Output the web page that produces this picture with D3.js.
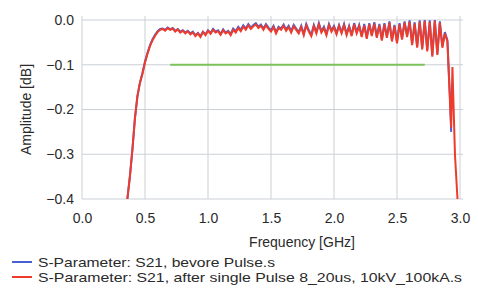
<!DOCTYPE html>
<html>
<head>
<meta charset="utf-8">
<script src="https://cdn.jsdelivr.net/npm/d3@7"></script>
<style>
  body { margin: 0; background: #fff; }
  text { font-family: Arial, "Liberation Sans", sans-serif; fill: #2a2a2a; }
</style>
</head>
<body>
<div id="chart"></div>
<script>
const freqs = [0.36,0.38,0.40,0.42,0.44,0.46,0.48,0.50,0.52,0.54,0.56,0.58,0.60,0.62,0.64,0.66,0.68,0.70,0.72,0.74,0.76,0.78,0.80,0.82,0.84,0.86,0.88,0.90,0.92,0.94,0.96,0.98,1.00,1.02,1.04,1.06,1.08,1.10,1.12,1.14,1.16,1.18,1.20,1.22,1.24,1.26,1.28,1.30,1.32,1.34,1.36,1.38,1.40,1.42,1.44,1.46,1.48,1.50,1.52,1.54,1.56,1.58,1.60,1.62,1.64,1.66,1.68,1.70,1.72,1.74,1.76,1.78,1.80,1.82,1.84,1.86,1.88,1.90,1.92,1.94,1.96,1.98,2.00,2.02,2.04,2.06,2.08,2.10,2.12,2.14,2.16,2.18,2.20,2.22,2.24,2.26,2.28,2.30,2.32,2.34,2.36,2.38,2.40,2.42,2.44,2.46,2.48,2.50,2.52,2.54,2.56,2.58,2.60,2.62,2.64,2.66,2.68,2.70,2.72,2.74,2.76,2.78,2.80,2.82,2.84,2.86,2.88,2.90,2.92,2.93,2.94,2.96,2.98]

// S21 after pulse (red)
const ampAfter = [-0.40,-0.35,-0.29,-0.22,-0.17,-0.14,-0.12,-0.095,-0.075,-0.058,-0.045,-0.035,-0.027,-0.022,-0.020,-0.024,-0.018,-0.022,-0.019,-0.026,-0.021,-0.028,-0.024,-0.030,-0.025,-0.032,-0.028,-0.036,-0.030,-0.038,-0.027,-0.034,-0.024,-0.031,-0.022,-0.028,-0.025,-0.033,-0.023,-0.030,-0.026,-0.034,-0.022,-0.028,-0.018,-0.025,-0.015,-0.022,-0.012,-0.020,-0.014,-0.010,-0.018,-0.013,-0.022,-0.012,-0.020,-0.026,-0.016,-0.030,-0.018,-0.022,-0.013,-0.024,-0.016,-0.028,-0.014,-0.022,-0.030,-0.016,-0.034,-0.012,-0.026,-0.036,-0.014,-0.030,-0.010,-0.028,-0.018,-0.034,-0.012,-0.026,-0.016,-0.032,-0.014,-0.030,-0.012,-0.034,-0.016,-0.036,-0.010,-0.030,-0.014,-0.038,-0.012,-0.042,-0.010,-0.036,-0.008,-0.040,-0.012,-0.046,-0.010,-0.040,-0.006,-0.048,-0.014,-0.052,-0.010,-0.044,-0.006,-0.038,-0.004,-0.056,-0.008,-0.062,-0.004,-0.066,-0.002,-0.070,-0.004,-0.082,-0.002,-0.078,-0.006,-0.062,-0.030,-0.048,-0.180,-0.240,-0.105,-0.300,-0.400]

// S21 before pulse (blue)
const ampBefore = [-0.40,-0.35,-0.29,-0.22,-0.17,-0.14,-0.118,-0.093,-0.073,-0.056,-0.043,-0.033,-0.025,-0.020,-0.019,-0.022,-0.017,-0.021,-0.018,-0.024,-0.020,-0.026,-0.023,-0.028,-0.024,-0.030,-0.026,-0.034,-0.029,-0.036,-0.026,-0.032,-0.023,-0.029,-0.020,-0.026,-0.023,-0.031,-0.021,-0.028,-0.024,-0.031,-0.019,-0.025,-0.015,-0.022,-0.012,-0.019,-0.009,-0.017,-0.011,-0.007,-0.015,-0.010,-0.019,-0.009,-0.017,-0.023,-0.013,-0.027,-0.015,-0.019,-0.010,-0.021,-0.013,-0.025,-0.011,-0.019,-0.027,-0.013,-0.031,-0.009,-0.023,-0.033,-0.011,-0.027,-0.007,-0.025,-0.015,-0.031,-0.009,-0.023,-0.013,-0.029,-0.011,-0.027,-0.009,-0.031,-0.013,-0.033,-0.007,-0.027,-0.011,-0.035,-0.009,-0.039,-0.007,-0.033,-0.005,-0.037,-0.009,-0.043,-0.007,-0.037,-0.003,-0.045,-0.011,-0.049,-0.007,-0.041,-0.003,-0.035,-0.001,-0.053,-0.005,-0.059,-0.001,-0.063,0.000,-0.067,-0.001,-0.079,0.000,-0.075,-0.003,-0.059,-0.027,-0.045,-0.170,-0.250,null,null,null]

// green reference level
const limitFreqs = [0.70, 2.72]
const limitAmp = [-0.1, -0.1]

const xTicks = [0.0, 0.5, 1.0, 1.5, 2.0, 2.5, 3.0]
const yTicks = [0.0, -0.1, -0.2, -0.3, -0.4]
const legendLabels = ['S-Parameter: S21, bevore Pulse.s', 'S-Parameter: S21, after single Pulse 8_20us, 10kV_100kA.s']
const legendWidths = [237, 424]
const colors = ['#4a5fd0', '#ee3b2b', '#7cc25a']

const width = 478, height = 295
const m = {left: 82, right: 460, top: 20, bottom: 199}

const svg = d3.select('#chart').append('svg')
  .attr('width', width)
  .attr('height', height)

const x = d3.scaleLinear().domain([0, 3]).range([m.left, m.right])
const y = d3.scaleLinear().domain([-0.4, 0]).range([m.bottom, m.top])

// grid
svg.append('g').selectAll('line')
  .data(xTicks)
  .enter().append('line')
  .attr('x1', d => x(d)).attr('x2', d => x(d))
  .attr('y1', m.top - 4).attr('y2', m.bottom)
  .attr('stroke', '#cbd0d6')
svg.append('g').selectAll('line')
  .data(yTicks)
  .enter().append('line')
  .attr('x1', m.left).attr('x2', m.right + 3)
  .attr('y1', d => y(d)).attr('y2', d => y(d))
  .attr('stroke', '#cbd0d6')

// tick labels
const xAxis = svg.append('g')
  .attr('transform', `translate(0,${m.bottom})`)
  .call(d3.axisBottom(x).tickValues(xTicks).tickFormat(d3.format('.1f')).tickSize(0).tickPadding(14))
xAxis.select('.domain').remove()
xAxis.selectAll('text').style('font-size', '14px').attr('fill', '#2a2a2a')

const yAxis = svg.append('g')
  .attr('transform', `translate(${m.left},0)`)
  .call(d3.axisLeft(y).tickValues(yTicks).tickFormat(d3.format('.1f')).tickSize(0).tickPadding(8))
yAxis.select('.domain').remove()
yAxis.selectAll('text').style('font-size', '14px').attr('fill', '#2a2a2a')

// axis titles
svg.append('text')
  .attr('x', 302).attr('y', 247)
  .attr('text-anchor', 'middle')
  .style('font-size', '14px')
  .text('Frequency [GHz]')
svg.append('text')
  .attr('transform', `translate(31,${(m.top + m.bottom) / 2}) rotate(-90)`)
  .attr('text-anchor', 'middle')
  .style('font-size', '14px')
  .text('Amplitude [dB]')

svg.append('clipPath').attr('id', 'plot')
  .append('rect').attr('x', m.left).attr('y', m.top - 6).attr('width', m.right - m.left + 6).attr('height', m.bottom - m.top + 7)

const plot = svg.append('g').attr('clip-path', 'url(#plot)')

const line = d3.line()
  .defined(d => d[1] !== null)
  .x(d => x(d[0]))
  .y(d => y(d[1]))

plot.append('path')
  .datum(d3.zip(limitFreqs, limitAmp))
  .attr('d', line)
  .attr('fill', 'none')
  .attr('stroke', colors[2])
  .attr('stroke-width', 2)

plot.append('path')
  .datum(d3.zip(freqs, ampBefore))
  .attr('d', line)
  .attr('fill', 'none')
  .attr('stroke', colors[0])
  .attr('stroke-width', 2)

plot.append('path')
  .datum(d3.zip(freqs, ampAfter))
  .attr('d', line)
  .attr('fill', 'none')
  .attr('stroke', colors[1])
  .attr('stroke-width', 2)

// legend
const legend = svg.append('g').selectAll('g')
  .data(legendLabels)
  .enter().append('g')
  .attr('transform', (d, i) => `translate(12,${262 + i * 15})`)
legend.append('line')
  .attr('x1', 0).attr('x2', 20)
  .attr('stroke', (d, i) => colors[i])
  .attr('stroke-width', 2)
legend.append('text')
  .attr('x', 26).attr('y', 4.5)
  .style('font-size', '13px')
  .attr('textLength', (d, i) => legendWidths[i])
  .attr('lengthAdjust', 'spacingAndGlyphs')
  .text(d => d)
</script>
</body>
</html>
